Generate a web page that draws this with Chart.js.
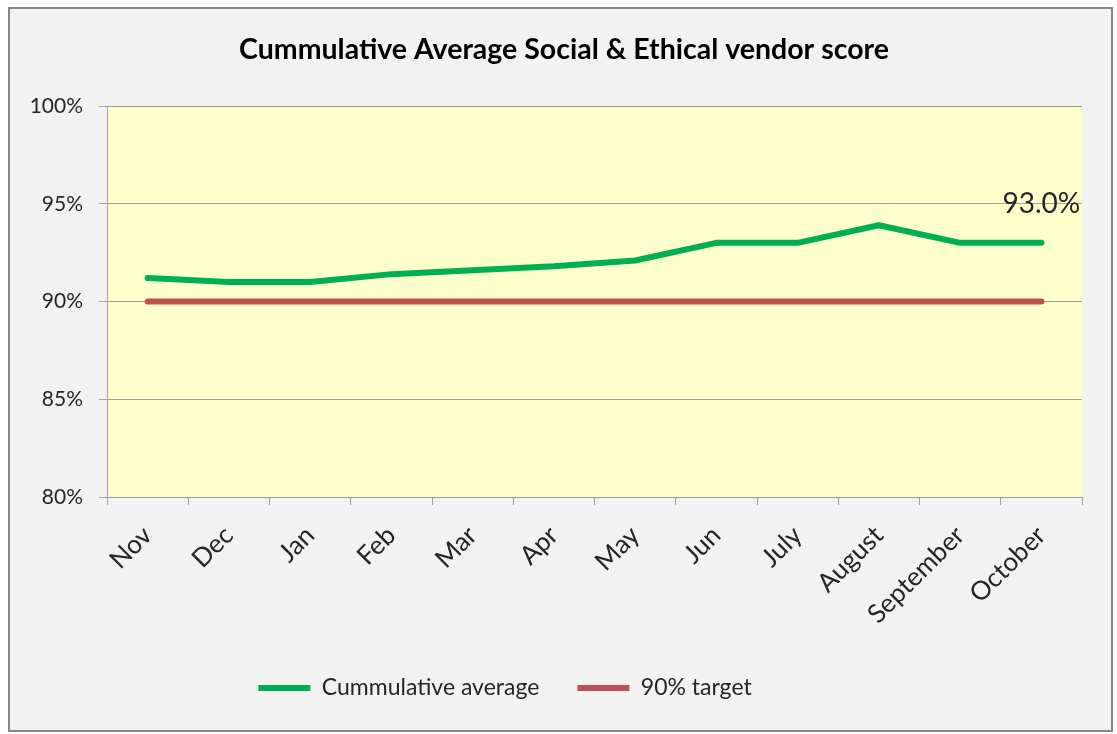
<!DOCTYPE html>
<html lang="en">
<head>
  <meta charset="UTF-8" />
  <title>Cummulative Average Social & Ethical vendor score</title>
  <script src="https://cdn.jsdelivr.net/npm/chart.js"></script>
  <style>
    body {
      margin: 0;
      background: white;
    }
    .wrap {
      position: relative;
      width: 1117px;
      height: 734px;
    }
  </style>
</head>
<body>
  <div class="wrap">
    <canvas id="scoreChart" width="1117" height="734"></canvas>
  </div>

  <script>
    // chart data
    const months = ['Nov', 'Dec', 'Jan', 'Feb', 'Mar', 'Apr', 'May', 'Jun', 'July', 'August', 'September', 'October'];
    const cumulativeAvg = [91.2, 91.0, 91.0, 91.4, 91.6, 91.8, 92.1, 93.0, 93.0, 93.9, 93.0, 93.0];
    const target = [90, 90, 90, 90, 90, 90, 90, 90, 90, 90, 90, 90];
    const yTicks = [80, 85, 90, 95, 100];

    const fontName = 'Lato, "Liberation Sans", sans-serif';
    const textColor = '#262626';
    const gridColor = '#a0a0a0';

    // frame + yellow plot background
    const backgroundPlugin = {
      id: 'background',
      beforeDraw(chart) {
        const ctx = chart.ctx;
        const a = chart.chartArea;
        ctx.save();
        ctx.fillStyle = 'white';
        ctx.fillRect(0, 0, chart.width, chart.height);
        ctx.fillStyle = '#f2f2f2';
        ctx.fillRect(9, 8, 1103, 723);
        ctx.strokeStyle = '#878787';
        ctx.lineWidth = 2;
        ctx.strokeRect(9, 8, 1103, 723);
        ctx.fillStyle = '#ffffcc';
        ctx.fillRect(a.left, a.top, a.right - a.left, a.bottom - a.top);
        ctx.restore();
      },
      afterLayout(chart) {
        // title is centred on the frame, legend sits a bit left of centre
        if (chart.titleBlock) chart.titleBlock.right = chart.titleBlock.right + 46;
        if (chart.legend) chart.legend.right = chart.legend.right - 72;
      }
    };

    // value label on the last point
    const lastLabelPlugin = {
      id: 'lastLabel',
      afterDatasetsDraw(chart) {
        const meta = chart.getDatasetMeta(0);
        const i = cumulativeAvg.length - 1;
        const pt = meta.data[i];
        const ctx = chart.ctx;
        ctx.save();
        ctx.font = '28px ' + fontName;
        ctx.fillStyle = textColor;
        ctx.textAlign = 'center';
        ctx.textBaseline = 'middle';
        ctx.fillText(cumulativeAvg[i].toFixed(1) + '%', pt.x, pt.y - 39);
        ctx.restore();
      }
    };

    new Chart(document.getElementById('scoreChart'), {
      type: 'line',
      data: {
        labels: months,
        datasets: [{
          label: 'Cummulative average',
          data: cumulativeAvg,
          borderColor: '#00b050',
          backgroundColor: '#00b050',
          borderWidth: 6,
          tension: 0,
          pointRadius: 0,
          borderJoinStyle: 'round',
          borderCapStyle: 'round'
        }, {
          label: '90% target',
          data: target,
          borderColor: '#c0504d',
          backgroundColor: '#c0504d',
          borderWidth: 6,
          tension: 0,
          pointRadius: 0,
          borderCapStyle: 'round'
        }]
      },
      options: {
        responsive: false,
        animation: false,
        events: [],
        layout: {
          padding: { left: 0, right: 35, top: 0, bottom: 24.5 }
        },
        scales: {
          x: {
            offset: true,
            grid: {
              offset: true,
              drawOnChartArea: false,
              drawTicks: true,
              tickLength: 8,
              color: gridColor
            },
            border: { color: gridColor, width: 1 },
            ticks: {
              autoSkip: false,
              maxRotation: 45,
              minRotation: 45,
              padding: 15,
              color: textColor,
              font: { family: fontName, size: 26 }
            },
            afterFit(scale) { scale.height = 141.5; }
          },
          y: {
            min: 80,
            max: 100,
            afterBuildTicks(scale) {
              scale.ticks = yTicks.map(v => ({ value: v }));
            },
            grid: {
              color: gridColor,
              tickLength: 8,
              drawTicks: true
            },
            border: { color: gridColor, width: 1 },
            ticks: {
              padding: 16,
              color: textColor,
              font: { family: fontName, size: 21 },
              callback: v => v + '%'
            },
            afterFit(scale) { scale.width = 107; }
          }
        },
        plugins: {
          title: {
            display: true,
            text: 'Cummulative Average Social & Ethical vendor score',
            color: '#000',
            font: { family: fontName, size: 28.5, weight: 'bold' },
            padding: { top: 33, bottom: 38.8 }
          },
          legend: {
            position: 'bottom',
            labels: {
              usePointStyle: true,
              pointStyle: 'line',
              pointStyleWidth: 52,
              padding: 38,
              color: textColor,
              font: { family: fontName, size: 23 }
            }
          },
          tooltip: { enabled: false }
        }
      },
      plugins: [backgroundPlugin, lastLabelPlugin]
    });
  </script>
</body>
</html>
